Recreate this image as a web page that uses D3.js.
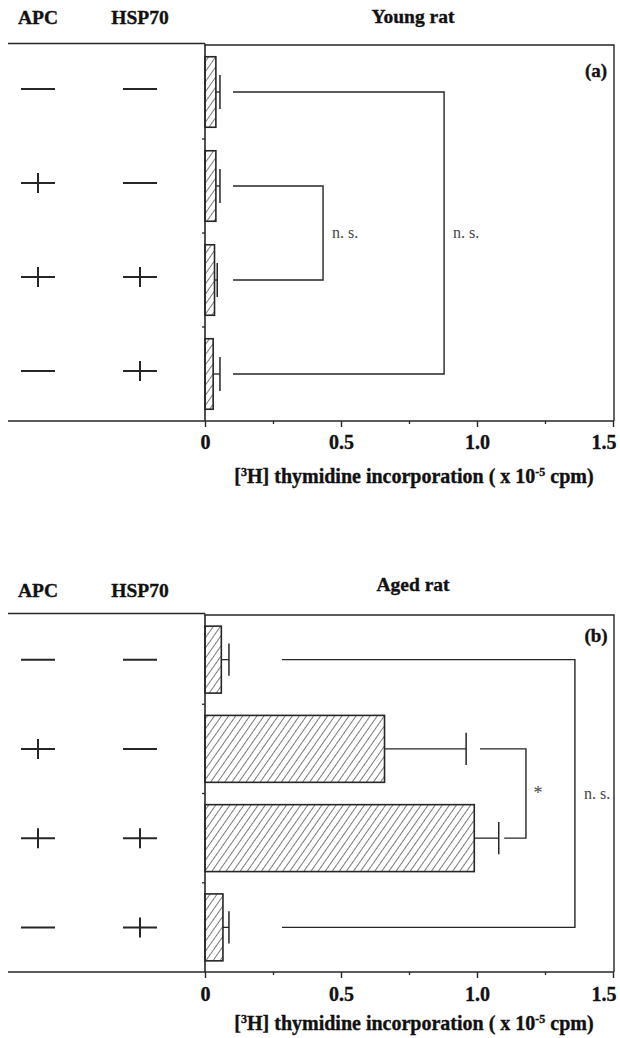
<!DOCTYPE html>
<html>
<head>
<meta charset="utf-8">
<script src="https://cdn.jsdelivr.net/npm/d3@7"></script>
<style>
  body { margin: 0; background: #fff; }
  svg { display: block; }
  text { font-family: "Liberation Serif", "DejaVu Serif", serif; }
  .bold { font-weight: bold; fill: #111; stroke: #111; stroke-width: 0.35px; }
</style>
</head>
<body>
<div id="chart"></div>
<script>
// Chart data
const apcSign = ["-", "+", "+", "-"];
const hspSign = ["-", "-", "+", "+"];
const youngMean = [0.04, 0.04, 0.035, 0.03];
const youngErr = [0.015, 0.015, 0.01, 0.025];
const agedMean = [0.06, 0.66, 0.99, 0.066];
const agedErr = [0.028, 0.30, 0.09, 0.022];
const xTicks = [0, 0.5, 1.0, 1.5];
const xMinorTicks = [0.25, 0.75, 1.25];
// significance brackets: rows joined, where each arm starts, where the bracket closes (data units)
const youngBrackets = [
  { a: 1, b: 2, startA: 0.103, startB: 0.103, end: 0.434, label: "n. s." },
  { a: 0, b: 3, startA: 0.103, startB: 0.103, end: 0.879, label: "n. s." }
];
const agedBrackets = [
  { a: 1, b: 2, startA: 1.011, startB: 1.1, end: 1.18, label: "*" },
  { a: 0, b: 3, startA: 0.283, startB: 0.283, end: 1.36, label: "n. s." }
];

const width = 620;
const height = 1038;
const ink = "#262626";
const leftEdge = 8;
const rightEdge = 614;
const colApc = 38;
const colHsp = 140;

const svg = d3.select("#chart")
  .append("svg")
  .attr("width", width)
  .attr("height", height);

// hatch pattern for the bars
svg.append("defs")
  .append("pattern")
  .attr("id", "hatch")
  .attr("patternUnits", "userSpaceOnUse")
  .attr("width", 5.8)
  .attr("height", 10)
  .attr("patternTransform", "rotate(35)")
  .append("line")
  .attr("x1", 0).attr("y1", 0)
  .attr("x2", 0).attr("y2", 10)
  .attr("stroke", "#333")
  .attr("stroke-width", 1.3);

const x = d3.scaleLinear()
  .domain([0, 1.5])
  .range([205, 613]);

function drawPanel(p) {
  const g = svg.append("g");

  const y = d3.scaleBand()
    .domain(d3.range(p.means.length))
    .range([p.top, p.bottom])
    .paddingInner(0.25)
    .paddingOuter(0.125);
  const cy = i => y(i) + y.bandwidth() / 2;
  const cap = y.bandwidth() * 0.24;

  // headers
  g.append("text").attr("class", "bold").attr("x", colApc).attr("y", p.top - p.headDy)
    .attr("text-anchor", "middle").style("font-size", "19.5px")
    .text("APC");
  g.append("text").attr("class", "bold").attr("x", colHsp).attr("y", p.top - p.headDy)
    .attr("text-anchor", "middle").style("font-size", "19.5px")
    .text("HSP70");
  g.append("text").attr("class", "bold").attr("x", 413).attr("y", p.top - p.titleDy)
    .attr("text-anchor", "middle").style("font-size", "19.5px")
    .text(p.title);

  // frame
  g.append("line")
    .attr("x1", leftEdge).attr("x2", x(0))
    .attr("y1", p.top - 1.5).attr("y2", p.top - 1.5)
    .attr("stroke", ink).attr("stroke-width", 1.6);
  g.append("path")
    .attr("d", `M${x(0)},${p.top - 1.5}V${p.top}H${rightEdge}V${p.bottom}`)
    .attr("fill", "none").attr("stroke", ink).attr("stroke-width", 1.4);
  g.append("line")
    .attr("x1", leftEdge).attr("x2", rightEdge)
    .attr("y1", p.bottom).attr("y2", p.bottom)
    .attr("stroke", ink).attr("stroke-width", 1.6);
  g.append("line")
    .attr("x1", x(0)).attr("x2", x(0))
    .attr("y1", p.top).attr("y2", p.bottom)
    .attr("stroke", ink).attr("stroke-width", 1.6);

  // small marks between rows on the y axis
  g.selectAll(".ytick")
    .data(d3.range(1, p.means.length))
    .join("line")
    .attr("x1", x(0) - 3).attr("x2", x(0))
    .attr("y1", i => y(i) - y.step() * y.paddingInner() / 2)
    .attr("y2", i => y(i) - y.step() * y.paddingInner() / 2)
    .attr("stroke", ink).attr("stroke-width", 1.3);

  // x axis
  const axis = g.append("g")
    .attr("transform", `translate(0,${p.bottom})`)
    .call(d3.axisBottom(x)
      .tickValues(xTicks)
      .tickSize(6)
      .tickPadding(p.tickPad)
      .tickFormat(d => d === 0 ? "0" : d3.format(".1f")(d)));
  axis.select(".domain").remove();
  axis.selectAll(".tick line").attr("stroke", ink).attr("stroke-width", 1.4);
  axis.selectAll(".tick text")
    .attr("class", "bold")
    .style("font-family", "Liberation Serif")
    .style("font-size", "20px");
  axis.selectAll(".tick text").filter(d => d === 1.5)
    .attr("text-anchor", "end").attr("x", 3);

  const minor = g.append("g")
    .attr("transform", `translate(0,${p.bottom})`)
    .call(d3.axisBottom(x).tickValues(xMinorTicks).tickSize(3).tickFormat(""));
  minor.select(".domain").remove();
  minor.selectAll(".tick line").attr("stroke", ink).attr("stroke-width", 1.3);

  // axis title
  const t = g.append("text")
    .attr("class", "bold")
    .attr("x", 414).attr("y", p.bottom + p.axisTitleDy)
    .attr("text-anchor", "middle")
    .style("font-size", "20px");
  t.append("tspan").text("[");
  t.append("tspan").attr("dy", -7).style("font-size", "12px").text("3");
  t.append("tspan").attr("dy", 7).text("H] thymidine incorporation ( x 10");
  t.append("tspan").attr("dy", -7).style("font-size", "12px").text("-5");
  t.append("tspan").attr("dy", 7).text(" cpm)");

  // panel tag
  g.append("text").attr("class", "bold").attr("x", 596).attr("y", p.top + p.tagDy)
    .attr("text-anchor", "middle").style("font-size", "19px")
    .text(p.tag);

  // +/- signs
  function sign(cx, i, s) {
    const yy = cy(i) + p.signShift;
    g.append("line").attr("x1", cx - 17).attr("x2", cx + 17).attr("y1", yy).attr("y2", yy)
      .attr("stroke", ink).attr("stroke-width", 2);
    if (s === "+") {
      g.append("line").attr("x1", cx).attr("x2", cx).attr("y1", yy - 10).attr("y2", yy + 10)
        .attr("stroke", ink).attr("stroke-width", 2);
    }
  }
  apcSign.forEach((s, i) => sign(colApc, i, s));
  hspSign.forEach((s, i) => sign(colHsp, i, s));

  // bars
  g.selectAll(".bar")
    .data(p.means)
    .join("rect")
    .attr("class", "bar")
    .attr("x", x(0))
    .attr("y", (d, i) => y(i))
    .attr("width", d => x(d) - x(0))
    .attr("height", y.bandwidth())
    .attr("fill", "url(#hatch)")
    .attr("stroke", ink)
    .attr("stroke-width", 1.6);

  // error bars
  p.means.forEach((m, i) => {
    const e = m + p.errs[i];
    g.append("line").attr("x1", x(m)).attr("x2", x(e)).attr("y1", cy(i)).attr("y2", cy(i))
      .attr("stroke", ink).attr("stroke-width", 1.3);
    g.append("line").attr("x1", x(e)).attr("x2", x(e)).attr("y1", cy(i) - cap).attr("y2", cy(i) + cap)
      .attr("stroke", ink).attr("stroke-width", 1.5);
  });

  // significance brackets
  p.brackets.forEach(b => {
    g.append("path")
      .attr("d", `M${x(b.startA)},${cy(b.a)}H${x(b.end)}V${cy(b.b)}H${x(b.startB)}`)
      .attr("fill", "none").attr("stroke", ink).attr("stroke-width", 1.4);
    g.append("text")
      .attr("x", x(b.end) + (b.label === "*" ? 12 : 9))
      .attr("y", (cy(b.a) + cy(b.b)) / 2 + 5)
      .attr("text-anchor", b.label === "*" ? "middle" : "start")
      .attr("fill", "#444")
      .style("font-size", b.label === "*" ? "18px" : "16px")
      .text(b.label);
  });
}

drawPanel({
  top: 45, bottom: 421, title: "Young rat", tag: "(a)",
  means: youngMean, errs: youngErr, brackets: youngBrackets,
  headDy: 21, titleDy: 22, tagDy: 32, signShift: -3,
  tickPad: 8, axisTitleDy: 62
});

drawPanel({
  top: 615, bottom: 972, title: "Aged rat", tag: "(b)",
  means: agedMean, errs: agedErr, brackets: agedBrackets,
  headDy: 18, titleDy: 24, tagDy: 27, signShift: 0,
  tickPad: 9, axisTitleDy: 58
});
</script>
</body>
</html>
